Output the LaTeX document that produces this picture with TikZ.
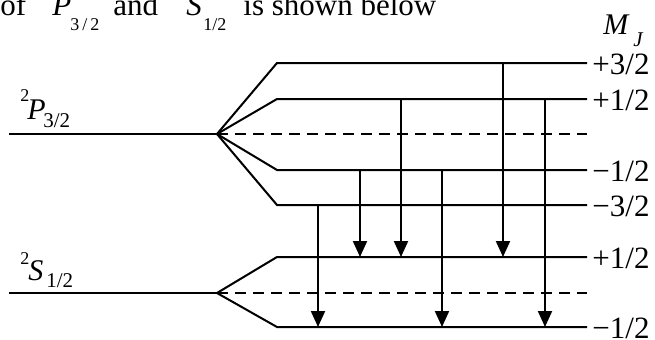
\documentclass[tikz,border=0pt]{standalone}
\usepackage{fontspec}
\setmainfont{Liberation Serif}
\usetikzlibrary{arrows.meta}
\tikzset{
  lvl/.style={line width=1pt},
  dsh/.style={line width=1pt, dash pattern=on 5.5pt off 3.5pt},
  trans/.style={line width=1pt, -{Triangle[width=7pt,length=8pt]}},
  lab/.style={inner sep=0pt, anchor=base west, font=\fontsize{15.5}{18}\selectfont},
  txt/.style={inner sep=0pt, anchor=base west, font=\fontsize{15.5}{18}\selectfont},
  sub/.style={inner sep=0pt, anchor=base west, font=\fontsize{9}{11}\selectfont},
  big/.style={inner sep=0pt, anchor=base west, font=\fontsize{15}{18}\selectfont},
  lsub/.style={inner sep=0pt, anchor=base west, font=\fontsize{10.5}{12}\selectfont},
  lsup/.style={inner sep=0pt, anchor=base west, font=\fontsize{9}{11}\selectfont},
}
\begin{document}
\begin{tikzpicture}[x=0.5pt,y=-0.5pt]
\useasboundingbox (0,0) rectangle (655,339);
% top text (cut by the page edge)
\node[txt] (t1) at (0,15) {of};
\node[txt] (t2) at (52,15) {\textit{P}};
\node[sub] (t3) at (70,30) {3\,/\,2};
\node[txt] (t4) at (113,15) {and};
\node[txt] (t5) at (186,15) {\textit{S}};
\node[sub] (t6) at (203,30) {1/2};
\node[txt] (t7) at (243,15) {is shown below};
% state labels
\node[lsup] (p2) at (20,101) {2};
\node[big] (pP) at (27,119) {\textit{P}};
\node[lsub] (pS) at (43,127) {3/2};
\node[lsup] (s2) at (20,264) {2};
\node[big] (sS) at (28,280) {\textit{S}};
\node[lsub] (sSub) at (46,287) {1/2};
\node[big] (mj) at (603,34) {\textit{M}};
\node[lsub] (mjs) at (633,46) {\textit{J}};
% P levels
\coordinate (pa) at (9,134);
\coordinate (ps) at (217,134);
\draw[lvl] (pa) -- (ps);
\draw[lvl] (ps) -- (277,63) -- (587,63) coordinate (p32);
\draw[lvl] (ps) -- (277,99) -- (587,99) coordinate (p12);
\draw[dsh] (ps) -- (587,134);
\draw[lvl] (ps) -- (277,170) -- (587,170) coordinate (pm12);
\draw[lvl] (ps) -- (277,205) -- (587,205) coordinate (pm32);
% S levels
\coordinate (sa) at (9,293);
\coordinate (ss) at (217,293);
\draw[lvl] (sa) -- (ss);
\draw[lvl] (ss) -- (277,257) -- (587,257) coordinate (s12);
\draw[dsh] (ss) -- (587,293);
\draw[lvl] (ss) -- (277,327) -- (587,327) coordinate (sm12);
% M_J labels
\node[lab] (l1) at (592,74) {+3/2};
\node[lab] (l2) at (592,110) {+1/2};
\node[lab] (l3) at (592,181) {−1/2};
\node[lab] (l4) at (592,216) {−3/2};
\node[lab] (l5) at (592,268) {+1/2};
\node[lab] (l6) at (592,338) {−1/2};
% transitions
\coordinate (a1) at (503,63);  \coordinate (b1) at (503,257);
\coordinate (a2) at (401,99);  \coordinate (b2) at (401,257);
\coordinate (a3) at (545,99);  \coordinate (b3) at (545,327);
\coordinate (a4) at (360,170); \coordinate (b4) at (360,257);
\coordinate (a5) at (442,170); \coordinate (b5) at (442,327);
\coordinate (a6) at (318,205); \coordinate (b6) at (318,327);
\draw[trans] (a1) -- (b1);
\draw[trans] (a2) -- (b2);
\draw[trans] (a3) -- (b3);
\draw[trans] (a4) -- (b4);
\draw[trans] (a5) -- (b5);
\draw[trans] (a6) -- (b6);
\end{tikzpicture}
\end{document}
